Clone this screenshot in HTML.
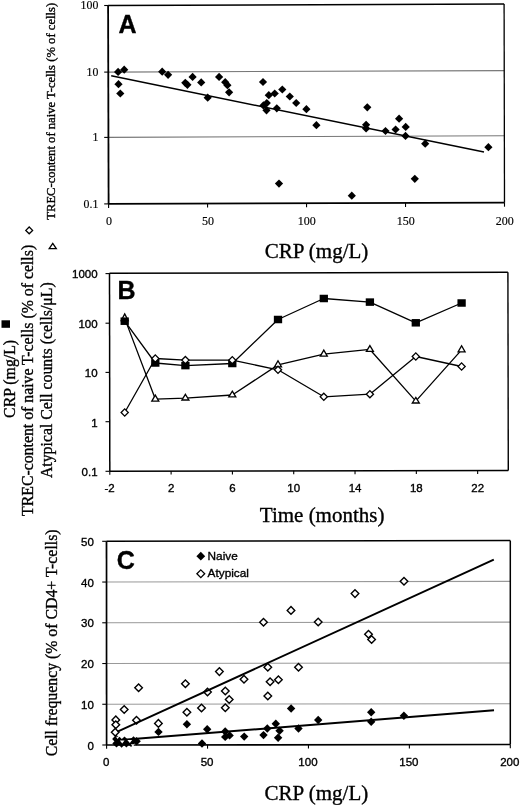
<!DOCTYPE html>
<html><head><meta charset="utf-8"><style>
html,body{margin:0;padding:0;background:#fff;}
body{width:520px;height:805px;overflow:hidden;}
svg{display:block;filter:grayscale(1);}
</style></head><body>
<svg width="520" height="805" viewBox="0 0 520 805">
<rect width="520" height="805" fill="#fff"/>
<line x1="108.30" y1="72.10" x2="504.30" y2="70.60" stroke="#777" stroke-width="1.1" stroke-linecap="butt"/>
<line x1="108.30" y1="137.40" x2="504.30" y2="135.80" stroke="#777" stroke-width="1.1" stroke-linecap="butt"/>
<line x1="108.10" y1="5.50" x2="504.10" y2="4.00" stroke="#000" stroke-width="1.4" stroke-linecap="butt"/>
<line x1="504.10" y1="4.00" x2="504.50" y2="202.70" stroke="#000" stroke-width="1.3" stroke-linecap="butt"/>
<line x1="108.60" y1="203.90" x2="504.50" y2="202.70" stroke="#000" stroke-width="1.8" stroke-linecap="butt"/>
<line x1="108.10" y1="5.50" x2="108.60" y2="203.90" stroke="#000" stroke-width="1.8" stroke-linecap="butt"/>
<line x1="104.20" y1="5.50" x2="108.50" y2="5.50" stroke="#000" stroke-width="1.1" stroke-linecap="butt"/>
<line x1="104.20" y1="72.10" x2="108.50" y2="72.10" stroke="#000" stroke-width="1.1" stroke-linecap="butt"/>
<line x1="104.20" y1="137.40" x2="108.50" y2="137.40" stroke="#000" stroke-width="1.1" stroke-linecap="butt"/>
<line x1="104.20" y1="203.90" x2="108.50" y2="203.90" stroke="#000" stroke-width="1.1" stroke-linecap="butt"/>
<line x1="108.60" y1="203.90" x2="108.60" y2="207.90" stroke="#000" stroke-width="1.1" stroke-linecap="butt"/>
<line x1="207.57" y1="203.60" x2="207.57" y2="207.60" stroke="#000" stroke-width="1.1" stroke-linecap="butt"/>
<line x1="306.55" y1="203.30" x2="306.55" y2="207.30" stroke="#000" stroke-width="1.1" stroke-linecap="butt"/>
<line x1="405.52" y1="203.00" x2="405.52" y2="207.00" stroke="#000" stroke-width="1.1" stroke-linecap="butt"/>
<line x1="504.50" y1="202.70" x2="504.50" y2="206.70" stroke="#000" stroke-width="1.1" stroke-linecap="butt"/>
<text x="98.30" y="9.10" font-family='"Liberation Serif", serif' font-size="11.8" font-weight="normal" text-anchor="end" stroke="#000" stroke-width="0.15" >100</text>
<text x="98.30" y="76.20" font-family='"Liberation Serif", serif' font-size="11.8" font-weight="normal" text-anchor="end" stroke="#000" stroke-width="0.15" >10</text>
<text x="98.30" y="141.40" font-family='"Liberation Serif", serif' font-size="11.8" font-weight="normal" text-anchor="end" stroke="#000" stroke-width="0.15" >1</text>
<text x="98.30" y="208.00" font-family='"Liberation Serif", serif' font-size="11.8" font-weight="normal" text-anchor="end" stroke="#000" stroke-width="0.15" >0.1</text>
<text x="108.90" y="224.90" font-family='"Liberation Serif", serif' font-size="12" font-weight="normal" text-anchor="middle" stroke="#000" stroke-width="0.15" >0</text>
<text x="207.88" y="224.90" font-family='"Liberation Serif", serif' font-size="12" font-weight="normal" text-anchor="middle" stroke="#000" stroke-width="0.15" >50</text>
<text x="306.85" y="224.90" font-family='"Liberation Serif", serif' font-size="12" font-weight="normal" text-anchor="middle" stroke="#000" stroke-width="0.15" >100</text>
<text x="405.82" y="224.90" font-family='"Liberation Serif", serif' font-size="12" font-weight="normal" text-anchor="middle" stroke="#000" stroke-width="0.15" >150</text>
<text x="504.80" y="224.90" font-family='"Liberation Serif", serif' font-size="12" font-weight="normal" text-anchor="middle" stroke="#000" stroke-width="0.15" >200</text>
<text x="118.50" y="32.90" font-family='"Liberation Sans", sans-serif' font-size="25" font-weight="bold" text-anchor="start" stroke="#000" stroke-width="0.35" >A</text>
<text transform="translate(54.50,111.30) rotate(-90)" font-family='"Liberation Serif", serif' font-size="12.65" text-anchor="middle" stroke="#000" stroke-width="0.35">TREC-content of naive T-cells (% of cells)</text>
<text x="264.70" y="257.80" font-family='"Liberation Serif", serif' font-size="21" font-weight="normal" text-anchor="start" stroke="#000" stroke-width="0.35" >CRP (mg/L)</text>
<line x1="111.20" y1="75.80" x2="484.00" y2="152.00" stroke="#000" stroke-width="1.5" stroke-linecap="butt"/>
<path d="M118.10 67.80L122.20 71.90L118.10 76.00L114.00 71.90Z" fill="#000"/>
<path d="M124.20 65.60L128.30 69.70L124.20 73.80L120.10 69.70Z" fill="#000"/>
<path d="M118.50 80.10L122.60 84.20L118.50 88.30L114.40 84.20Z" fill="#000"/>
<path d="M120.30 89.40L124.40 93.50L120.30 97.60L116.20 93.50Z" fill="#000"/>
<path d="M162.20 67.60L166.30 71.70L162.20 75.80L158.10 71.70Z" fill="#000"/>
<path d="M168.10 70.70L172.20 74.80L168.10 78.90L164.00 74.80Z" fill="#000"/>
<path d="M185.30 78.70L189.40 82.80L185.30 86.90L181.20 82.80Z" fill="#000"/>
<path d="M187.40 80.70L191.50 84.80L187.40 88.90L183.30 84.80Z" fill="#000"/>
<path d="M192.60 72.80L196.70 76.90L192.60 81.00L188.50 76.90Z" fill="#000"/>
<path d="M201.20 78.30L205.30 82.40L201.20 86.50L197.10 82.40Z" fill="#000"/>
<path d="M207.70 93.60L211.80 97.70L207.70 101.80L203.60 97.70Z" fill="#000"/>
<path d="M219.10 72.80L223.20 76.90L219.10 81.00L215.00 76.90Z" fill="#000"/>
<path d="M225.20 78.10L229.30 82.20L225.20 86.30L221.10 82.20Z" fill="#000"/>
<path d="M227.40 81.10L231.50 85.20L227.40 89.30L223.30 85.20Z" fill="#000"/>
<path d="M229.10 88.20L233.20 92.30L229.10 96.40L225.00 92.30Z" fill="#000"/>
<path d="M263.00 77.90L267.10 82.00L263.00 86.10L258.90 82.00Z" fill="#000"/>
<path d="M268.80 91.10L272.90 95.20L268.80 99.30L264.70 95.20Z" fill="#000"/>
<path d="M274.70 89.40L278.80 93.50L274.70 97.60L270.60 93.50Z" fill="#000"/>
<path d="M282.30 85.40L286.40 89.50L282.30 93.60L278.20 89.50Z" fill="#000"/>
<path d="M289.80 92.40L293.90 96.50L289.80 100.60L285.70 96.50Z" fill="#000"/>
<path d="M296.20 98.90L300.30 103.00L296.20 107.10L292.10 103.00Z" fill="#000"/>
<path d="M263.40 101.30L267.50 105.40L263.40 109.50L259.30 105.40Z" fill="#000"/>
<path d="M266.80 99.00L270.90 103.10L266.80 107.20L262.70 103.10Z" fill="#000"/>
<path d="M266.50 106.20L270.60 110.30L266.50 114.40L262.40 110.30Z" fill="#000"/>
<path d="M276.80 104.20L280.90 108.30L276.80 112.40L272.70 108.30Z" fill="#000"/>
<path d="M306.40 105.10L310.50 109.20L306.40 113.30L302.30 109.20Z" fill="#000"/>
<path d="M316.40 121.10L320.50 125.20L316.40 129.30L312.30 125.20Z" fill="#000"/>
<path d="M367.30 103.20L371.40 107.30L367.30 111.40L363.20 107.30Z" fill="#000"/>
<path d="M366.10 120.70L370.20 124.80L366.10 128.90L362.00 124.80Z" fill="#000"/>
<path d="M366.10 124.40L370.20 128.50L366.10 132.60L362.00 128.50Z" fill="#000"/>
<path d="M385.50 126.90L389.60 131.00L385.50 135.10L381.40 131.00Z" fill="#000"/>
<path d="M395.60 125.40L399.70 129.50L395.60 133.60L391.50 129.50Z" fill="#000"/>
<path d="M399.10 114.60L403.20 118.70L399.10 122.80L395.00 118.70Z" fill="#000"/>
<path d="M405.70 122.80L409.80 126.90L405.70 131.00L401.60 126.90Z" fill="#000"/>
<path d="M405.50 131.80L409.60 135.90L405.50 140.00L401.40 135.90Z" fill="#000"/>
<path d="M425.20 139.60L429.30 143.70L425.20 147.80L421.10 143.70Z" fill="#000"/>
<path d="M488.40 143.10L492.50 147.20L488.40 151.30L484.30 147.20Z" fill="#000"/>
<path d="M414.80 174.70L418.90 178.80L414.80 182.90L410.70 178.80Z" fill="#000"/>
<path d="M279.00 179.50L283.10 183.60L279.00 187.70L274.90 183.60Z" fill="#000"/>
<path d="M351.80 191.60L355.90 195.70L351.80 199.80L347.70 195.70Z" fill="#000"/>
<line x1="109.50" y1="273.30" x2="507.90" y2="272.30" stroke="#000" stroke-width="1.4" stroke-linecap="butt"/>
<line x1="507.90" y1="272.30" x2="508.30" y2="470.40" stroke="#000" stroke-width="1.4" stroke-linecap="butt"/>
<line x1="109.80" y1="471.20" x2="508.30" y2="470.40" stroke="#000" stroke-width="1.5" stroke-linecap="butt"/>
<line x1="109.50" y1="273.30" x2="109.80" y2="471.20" stroke="#000" stroke-width="1.5" stroke-linecap="butt"/>
<line x1="105.50" y1="273.60" x2="109.80" y2="273.60" stroke="#000" stroke-width="1.1" stroke-linecap="butt"/>
<line x1="105.50" y1="323.20" x2="109.80" y2="323.20" stroke="#000" stroke-width="1.1" stroke-linecap="butt"/>
<line x1="105.50" y1="372.40" x2="109.80" y2="372.40" stroke="#000" stroke-width="1.1" stroke-linecap="butt"/>
<line x1="105.50" y1="421.70" x2="109.80" y2="421.70" stroke="#000" stroke-width="1.1" stroke-linecap="butt"/>
<line x1="105.50" y1="471.30" x2="109.80" y2="471.30" stroke="#000" stroke-width="1.1" stroke-linecap="butt"/>
<line x1="109.80" y1="471.20" x2="109.80" y2="474.70" stroke="#000" stroke-width="1.1" stroke-linecap="butt"/>
<line x1="171.11" y1="471.08" x2="171.11" y2="474.58" stroke="#000" stroke-width="1.1" stroke-linecap="butt"/>
<line x1="232.42" y1="470.95" x2="232.42" y2="474.45" stroke="#000" stroke-width="1.1" stroke-linecap="butt"/>
<line x1="293.72" y1="470.83" x2="293.72" y2="474.33" stroke="#000" stroke-width="1.1" stroke-linecap="butt"/>
<line x1="355.03" y1="470.71" x2="355.03" y2="474.21" stroke="#000" stroke-width="1.1" stroke-linecap="butt"/>
<line x1="416.34" y1="470.58" x2="416.34" y2="474.08" stroke="#000" stroke-width="1.1" stroke-linecap="butt"/>
<line x1="477.65" y1="470.46" x2="477.65" y2="473.96" stroke="#000" stroke-width="1.1" stroke-linecap="butt"/>
<text x="97.60" y="278.30" font-family='"Liberation Sans", sans-serif' font-size="11.5" font-weight="normal" text-anchor="end" stroke="#000" stroke-width="0.35" >1000</text>
<text x="97.60" y="327.50" font-family='"Liberation Sans", sans-serif' font-size="11.5" font-weight="normal" text-anchor="end" stroke="#000" stroke-width="0.35" >100</text>
<text x="97.60" y="376.90" font-family='"Liberation Sans", sans-serif' font-size="11.5" font-weight="normal" text-anchor="end" stroke="#000" stroke-width="0.35" >10</text>
<text x="97.60" y="426.50" font-family='"Liberation Sans", sans-serif' font-size="11.5" font-weight="normal" text-anchor="end" stroke="#000" stroke-width="0.35" >1</text>
<text x="97.60" y="475.90" font-family='"Liberation Sans", sans-serif' font-size="11.5" font-weight="normal" text-anchor="end" stroke="#000" stroke-width="0.35" >0.1</text>
<text x="109.50" y="492.00" font-family='"Liberation Sans", sans-serif' font-size="11.5" font-weight="normal" text-anchor="middle" stroke="#000" stroke-width="0.35" >-2</text>
<text x="171.11" y="492.00" font-family='"Liberation Sans", sans-serif' font-size="11.5" font-weight="normal" text-anchor="middle" stroke="#000" stroke-width="0.35" >2</text>
<text x="232.42" y="492.00" font-family='"Liberation Sans", sans-serif' font-size="11.5" font-weight="normal" text-anchor="middle" stroke="#000" stroke-width="0.35" >6</text>
<text x="293.72" y="492.00" font-family='"Liberation Sans", sans-serif' font-size="11.5" font-weight="normal" text-anchor="middle" stroke="#000" stroke-width="0.35" >10</text>
<text x="355.03" y="492.00" font-family='"Liberation Sans", sans-serif' font-size="11.5" font-weight="normal" text-anchor="middle" stroke="#000" stroke-width="0.35" >14</text>
<text x="416.34" y="492.00" font-family='"Liberation Sans", sans-serif' font-size="11.5" font-weight="normal" text-anchor="middle" stroke="#000" stroke-width="0.35" >18</text>
<text x="477.65" y="492.00" font-family='"Liberation Sans", sans-serif' font-size="11.5" font-weight="normal" text-anchor="middle" stroke="#000" stroke-width="0.35" >22</text>
<text x="117.40" y="299.00" font-family='"Liberation Sans", sans-serif' font-size="25" font-weight="bold" text-anchor="start" stroke="#000" stroke-width="0.35" >B</text>
<text x="259.80" y="521.90" font-family='"Liberation Serif", serif' font-size="21" font-weight="normal" text-anchor="start" stroke="#000" stroke-width="0.35" >Time (months)</text>
<text transform="translate(14.80,378.90) rotate(-90)" font-family='"Liberation Serif", serif' font-size="15.8" text-anchor="middle" stroke="#000" stroke-width="0.35">CRP (mg/L)</text>
<text transform="translate(33.00,380.40) rotate(-90)" font-family='"Liberation Serif", serif' font-size="15.8" text-anchor="middle" stroke="#000" stroke-width="0.35">TREC-content of naive T-cells (% of cells)</text>
<text transform="translate(52.20,380.20) rotate(-90)" font-family='"Liberation Serif", serif' font-size="15.8" text-anchor="middle" stroke="#000" stroke-width="0.35">Atypical Cell counts (cells/μL)</text>
<rect x="1.5" y="320.3" width="8.5" height="7.5" fill="#000"/>
<path d="M29.20 227.00L32.60 230.40L29.20 233.80L25.80 230.40Z" fill="#fff" stroke="#000" stroke-width="1.3" stroke-linejoin="miter"/>
<path d="M52.75 243.3L56.3 248.6L49.2 248.6Z" fill="#fff" stroke="#000" stroke-width="1.3"/>
<polyline points="124.70,321.20 155.30,363.00 185.40,365.60 232.30,363.50 278.00,319.50 323.80,298.50 369.90,302.10 415.80,322.80 461.60,303.00" fill="none" stroke="#000" stroke-width="1.3" stroke-linejoin="round"/>
<polyline points="124.70,412.50 155.30,358.50 185.40,360.10 232.30,360.20 278.00,369.80 323.80,396.80 369.90,394.20 415.80,356.50 461.60,366.50" fill="none" stroke="#000" stroke-width="1.3" stroke-linejoin="round"/>
<polyline points="124.70,318.37 155.30,399.10 185.40,398.10 232.30,395.00 278.00,364.87 323.80,354.10 369.90,349.47 415.80,401.13 461.60,349.83" fill="none" stroke="#000" stroke-width="1.3" stroke-linejoin="round"/>
<path d="M124.70 313.90L128.20 320.60L121.20 320.60Z" fill="#fff" stroke="#000" stroke-width="1.3" stroke-linejoin="miter"/>
<path d="M155.30 395.10L158.80 401.10L151.80 401.10Z" fill="#fff" stroke="#000" stroke-width="1.3" stroke-linejoin="miter"/>
<path d="M185.40 394.30L188.90 400.00L181.90 400.00Z" fill="#fff" stroke="#000" stroke-width="1.3" stroke-linejoin="miter"/>
<path d="M232.30 391.20L235.80 396.90L228.80 396.90Z" fill="#fff" stroke="#000" stroke-width="1.3" stroke-linejoin="miter"/>
<path d="M278.00 360.80L281.50 366.90L274.50 366.90Z" fill="#fff" stroke="#000" stroke-width="1.3" stroke-linejoin="miter"/>
<path d="M323.80 350.10L327.30 356.10L320.30 356.10Z" fill="#fff" stroke="#000" stroke-width="1.3" stroke-linejoin="miter"/>
<path d="M369.90 345.60L373.40 351.40L366.40 351.40Z" fill="#fff" stroke="#000" stroke-width="1.3" stroke-linejoin="miter"/>
<path d="M415.80 397.40L419.30 403.00L412.30 403.00Z" fill="#fff" stroke="#000" stroke-width="1.3" stroke-linejoin="miter"/>
<path d="M461.60 345.70L465.10 351.90L458.10 351.90Z" fill="#fff" stroke="#000" stroke-width="1.3" stroke-linejoin="miter"/>
<rect x="120.55" y="317.45" width="8.3" height="7.5" fill="#000"/>
<rect x="151.15" y="359.25" width="8.3" height="7.5" fill="#000"/>
<rect x="181.25" y="361.85" width="8.3" height="7.5" fill="#000"/>
<rect x="228.15" y="359.75" width="8.3" height="7.5" fill="#000"/>
<rect x="273.85" y="315.75" width="8.3" height="7.5" fill="#000"/>
<rect x="319.65" y="294.75" width="8.3" height="7.5" fill="#000"/>
<rect x="365.75" y="298.35" width="8.3" height="7.5" fill="#000"/>
<rect x="411.65" y="319.05" width="8.3" height="7.5" fill="#000"/>
<rect x="457.45" y="299.25" width="8.3" height="7.5" fill="#000"/>
<path d="M124.70 408.90L128.30 412.50L124.70 416.10L121.10 412.50Z" fill="#fff" stroke="#000" stroke-width="1.3" stroke-linejoin="miter"/>
<path d="M155.30 354.90L158.90 358.50L155.30 362.10L151.70 358.50Z" fill="#fff" stroke="#000" stroke-width="1.3" stroke-linejoin="miter"/>
<path d="M185.40 356.50L189.00 360.10L185.40 363.70L181.80 360.10Z" fill="#fff" stroke="#000" stroke-width="1.3" stroke-linejoin="miter"/>
<path d="M232.30 356.60L235.90 360.20L232.30 363.80L228.70 360.20Z" fill="#fff" stroke="#000" stroke-width="1.3" stroke-linejoin="miter"/>
<path d="M278.00 366.20L281.60 369.80L278.00 373.40L274.40 369.80Z" fill="#fff" stroke="#000" stroke-width="1.3" stroke-linejoin="miter"/>
<path d="M323.80 393.20L327.40 396.80L323.80 400.40L320.20 396.80Z" fill="#fff" stroke="#000" stroke-width="1.3" stroke-linejoin="miter"/>
<path d="M369.90 390.60L373.50 394.20L369.90 397.80L366.30 394.20Z" fill="#fff" stroke="#000" stroke-width="1.3" stroke-linejoin="miter"/>
<path d="M415.80 352.90L419.40 356.50L415.80 360.10L412.20 356.50Z" fill="#fff" stroke="#000" stroke-width="1.3" stroke-linejoin="miter"/>
<path d="M461.60 362.90L465.20 366.50L461.60 370.10L458.00 366.50Z" fill="#fff" stroke="#000" stroke-width="1.3" stroke-linejoin="miter"/>
<line x1="106.52" y1="582.04" x2="510.30" y2="581.38" stroke="#999" stroke-width="1.1" stroke-linecap="butt"/>
<line x1="106.54" y1="622.78" x2="510.30" y2="622.16" stroke="#999" stroke-width="1.1" stroke-linecap="butt"/>
<line x1="106.56" y1="663.52" x2="510.30" y2="662.94" stroke="#999" stroke-width="1.1" stroke-linecap="butt"/>
<line x1="106.58" y1="704.26" x2="510.30" y2="703.72" stroke="#999" stroke-width="1.1" stroke-linecap="butt"/>
<line x1="106.50" y1="541.30" x2="510.30" y2="540.60" stroke="#000" stroke-width="1.5" stroke-linecap="butt"/>
<line x1="510.30" y1="540.60" x2="510.30" y2="744.50" stroke="#000" stroke-width="1.5" stroke-linecap="butt"/>
<line x1="106.60" y1="745.00" x2="510.30" y2="744.50" stroke="#000" stroke-width="1.7" stroke-linecap="butt"/>
<line x1="106.50" y1="541.30" x2="106.60" y2="745.00" stroke="#000" stroke-width="1.7" stroke-linecap="butt"/>
<line x1="102.20" y1="541.30" x2="106.50" y2="541.30" stroke="#000" stroke-width="1.1" stroke-linecap="butt"/>
<line x1="102.22" y1="582.04" x2="106.52" y2="582.04" stroke="#000" stroke-width="1.1" stroke-linecap="butt"/>
<line x1="102.24" y1="622.78" x2="106.54" y2="622.78" stroke="#000" stroke-width="1.1" stroke-linecap="butt"/>
<line x1="102.26" y1="663.52" x2="106.56" y2="663.52" stroke="#000" stroke-width="1.1" stroke-linecap="butt"/>
<line x1="102.28" y1="704.26" x2="106.58" y2="704.26" stroke="#000" stroke-width="1.1" stroke-linecap="butt"/>
<line x1="102.30" y1="745.00" x2="106.60" y2="745.00" stroke="#000" stroke-width="1.1" stroke-linecap="butt"/>
<line x1="106.60" y1="745.00" x2="106.60" y2="748.80" stroke="#000" stroke-width="1.1" stroke-linecap="butt"/>
<line x1="207.53" y1="744.88" x2="207.53" y2="748.67" stroke="#000" stroke-width="1.1" stroke-linecap="butt"/>
<line x1="308.45" y1="744.75" x2="308.45" y2="748.55" stroke="#000" stroke-width="1.1" stroke-linecap="butt"/>
<line x1="409.38" y1="744.62" x2="409.38" y2="748.42" stroke="#000" stroke-width="1.1" stroke-linecap="butt"/>
<line x1="510.30" y1="744.50" x2="510.30" y2="748.30" stroke="#000" stroke-width="1.1" stroke-linecap="butt"/>
<text x="93.80" y="749.60" font-family='"Liberation Sans", sans-serif' font-size="11.5" font-weight="normal" text-anchor="end" stroke="#000" stroke-width="0.35" >0</text>
<text x="93.80" y="708.86" font-family='"Liberation Sans", sans-serif' font-size="11.5" font-weight="normal" text-anchor="end" stroke="#000" stroke-width="0.35" >10</text>
<text x="93.80" y="668.12" font-family='"Liberation Sans", sans-serif' font-size="11.5" font-weight="normal" text-anchor="end" stroke="#000" stroke-width="0.35" >20</text>
<text x="93.80" y="627.38" font-family='"Liberation Sans", sans-serif' font-size="11.5" font-weight="normal" text-anchor="end" stroke="#000" stroke-width="0.35" >30</text>
<text x="93.80" y="586.64" font-family='"Liberation Sans", sans-serif' font-size="11.5" font-weight="normal" text-anchor="end" stroke="#000" stroke-width="0.35" >40</text>
<text x="93.80" y="545.90" font-family='"Liberation Sans", sans-serif' font-size="11.5" font-weight="normal" text-anchor="end" stroke="#000" stroke-width="0.35" >50</text>
<text x="106.10" y="765.80" font-family='"Liberation Sans", sans-serif' font-size="11.5" font-weight="normal" text-anchor="middle" stroke="#000" stroke-width="0.35" >0</text>
<text x="207.03" y="765.80" font-family='"Liberation Sans", sans-serif' font-size="11.5" font-weight="normal" text-anchor="middle" stroke="#000" stroke-width="0.35" >50</text>
<text x="307.95" y="765.80" font-family='"Liberation Sans", sans-serif' font-size="11.5" font-weight="normal" text-anchor="middle" stroke="#000" stroke-width="0.35" >100</text>
<text x="408.88" y="765.80" font-family='"Liberation Sans", sans-serif' font-size="11.5" font-weight="normal" text-anchor="middle" stroke="#000" stroke-width="0.35" >150</text>
<text x="509.80" y="765.80" font-family='"Liberation Sans", sans-serif' font-size="11.5" font-weight="normal" text-anchor="middle" stroke="#000" stroke-width="0.35" >200</text>
<text x="116.70" y="569.10" font-family='"Liberation Sans", sans-serif' font-size="25" font-weight="bold" text-anchor="start" stroke="#000" stroke-width="0.35" >C</text>
<text x="264.60" y="799.60" font-family='"Liberation Serif", serif' font-size="21" font-weight="normal" text-anchor="start" stroke="#000" stroke-width="0.35" >CRP (mg/L)</text>
<text transform="translate(56.50,642.90) rotate(-90)" font-family='"Liberation Serif", serif' font-size="15.8" text-anchor="middle" stroke="#000" stroke-width="0.35">Cell frequency (% of CD4+ T-cells)</text>
<path d="M200.80 551.80L205.20 556.20L200.80 560.60L196.40 556.20Z" fill="#000"/>
<text x="207.60" y="559.80" font-family='"Liberation Sans", sans-serif' font-size="11.8" font-weight="normal" text-anchor="start" stroke="#000" stroke-width="0.35" >Naive</text>
<path d="M200.80 569.90L204.70 573.80L200.80 577.70L196.90 573.80Z" fill="#fff" stroke="#000" stroke-width="1.3" stroke-linejoin="miter"/>
<text x="207.60" y="577.40" font-family='"Liberation Sans", sans-serif' font-size="11.8" font-weight="normal" text-anchor="start" stroke="#000" stroke-width="0.35" >Atypical</text>
<path d="M158.50 727.70L162.70 731.90L158.50 736.10L154.30 731.90Z" fill="#000"/>
<path d="M186.90 720.10L191.10 724.30L186.90 728.50L182.70 724.30Z" fill="#000"/>
<path d="M207.20 725.00L211.40 729.20L207.20 733.40L203.00 729.20Z" fill="#000"/>
<path d="M202.00 739.30L206.20 743.50L202.00 747.70L197.80 743.50Z" fill="#000"/>
<path d="M225.20 727.30L229.40 731.50L225.20 735.70L221.00 731.50Z" fill="#000"/>
<path d="M225.20 732.70L229.40 736.90L225.20 741.10L221.00 736.90Z" fill="#000"/>
<path d="M229.60 731.20L233.80 735.40L229.60 739.60L225.40 735.40Z" fill="#000"/>
<path d="M244.20 732.40L248.40 736.60L244.20 740.80L240.00 736.60Z" fill="#000"/>
<path d="M263.50 730.90L267.70 735.10L263.50 739.30L259.30 735.10Z" fill="#000"/>
<path d="M267.30 724.30L271.50 728.50L267.30 732.70L263.10 728.50Z" fill="#000"/>
<path d="M275.80 719.60L280.00 723.80L275.80 728.00L271.60 723.80Z" fill="#000"/>
<path d="M279.60 726.60L283.80 730.80L279.60 735.00L275.40 730.80Z" fill="#000"/>
<path d="M278.10 733.50L282.30 737.70L278.10 741.90L273.90 737.70Z" fill="#000"/>
<path d="M291.10 704.30L295.30 708.50L291.10 712.70L286.90 708.50Z" fill="#000"/>
<path d="M298.50 724.30L302.70 728.50L298.50 732.70L294.30 728.50Z" fill="#000"/>
<path d="M318.20 715.80L322.40 720.00L318.20 724.20L314.00 720.00Z" fill="#000"/>
<path d="M371.20 708.10L375.40 712.30L371.20 716.50L367.00 712.30Z" fill="#000"/>
<path d="M371.20 717.60L375.40 721.80L371.20 726.00L367.00 721.80Z" fill="#000"/>
<path d="M403.90 711.50L408.10 715.70L403.90 719.90L399.70 715.70Z" fill="#000"/>
<path d="M116.30 734.80L120.50 739.00L116.30 743.20L112.10 739.00Z" fill="#000"/>
<path d="M116.50 739.20L120.70 743.40L116.50 747.60L112.30 743.40Z" fill="#000"/>
<path d="M121.60 739.40L125.80 743.60L121.60 747.80L117.40 743.60Z" fill="#000"/>
<path d="M126.40 739.10L130.60 743.30L126.40 747.50L122.20 743.30Z" fill="#000"/>
<path d="M131.00 738.60L135.20 742.80L131.00 747.00L126.80 742.80Z" fill="#000"/>
<path d="M136.60 737.00L140.80 741.20L136.60 745.40L132.40 741.20Z" fill="#000"/>
<path d="M124.50 736.40L128.70 740.60L124.50 744.80L120.30 740.60Z" fill="#000"/>
<path d="M133.50 736.20L137.70 740.40L133.50 744.60L129.30 740.40Z" fill="#000"/>
<path d="M119.50 736.80L123.70 741.00L119.50 745.20L115.30 741.00Z" fill="#000"/>
<path d="M115.80 716.10L119.60 719.90L115.80 723.70L112.00 719.90Z" fill="#fff" stroke="#000" stroke-width="1.4" stroke-linejoin="miter"/>
<path d="M115.80 721.00L119.60 724.80L115.80 728.60L112.00 724.80Z" fill="#fff" stroke="#000" stroke-width="1.4" stroke-linejoin="miter"/>
<path d="M115.20 728.50L119.00 732.30L115.20 736.10L111.40 732.30Z" fill="#fff" stroke="#000" stroke-width="1.4" stroke-linejoin="miter"/>
<path d="M124.20 705.70L128.00 709.50L124.20 713.30L120.40 709.50Z" fill="#fff" stroke="#000" stroke-width="1.4" stroke-linejoin="miter"/>
<path d="M136.50 716.40L140.30 720.20L136.50 724.00L132.70 720.20Z" fill="#fff" stroke="#000" stroke-width="1.4" stroke-linejoin="miter"/>
<path d="M138.60 683.90L142.40 687.70L138.60 691.50L134.80 687.70Z" fill="#fff" stroke="#000" stroke-width="1.4" stroke-linejoin="miter"/>
<path d="M158.40 719.60L162.20 723.40L158.40 727.20L154.60 723.40Z" fill="#fff" stroke="#000" stroke-width="1.4" stroke-linejoin="miter"/>
<path d="M185.40 680.00L189.20 683.80L185.40 687.60L181.60 683.80Z" fill="#fff" stroke="#000" stroke-width="1.4" stroke-linejoin="miter"/>
<path d="M186.90 708.50L190.70 712.30L186.90 716.10L183.10 712.30Z" fill="#fff" stroke="#000" stroke-width="1.4" stroke-linejoin="miter"/>
<path d="M201.50 704.20L205.30 708.00L201.50 711.80L197.70 708.00Z" fill="#fff" stroke="#000" stroke-width="1.4" stroke-linejoin="miter"/>
<path d="M207.50 688.20L211.30 692.00L207.50 695.80L203.70 692.00Z" fill="#fff" stroke="#000" stroke-width="1.4" stroke-linejoin="miter"/>
<path d="M219.40 667.80L223.20 671.60L219.40 675.40L215.60 671.60Z" fill="#fff" stroke="#000" stroke-width="1.4" stroke-linejoin="miter"/>
<path d="M225.30 687.20L229.10 691.00L225.30 694.80L221.50 691.00Z" fill="#fff" stroke="#000" stroke-width="1.4" stroke-linejoin="miter"/>
<path d="M229.20 695.70L233.00 699.50L229.20 703.30L225.40 699.50Z" fill="#fff" stroke="#000" stroke-width="1.4" stroke-linejoin="miter"/>
<path d="M225.30 704.00L229.10 707.80L225.30 711.60L221.50 707.80Z" fill="#fff" stroke="#000" stroke-width="1.4" stroke-linejoin="miter"/>
<path d="M244.00 675.50L247.80 679.30L244.00 683.10L240.20 679.30Z" fill="#fff" stroke="#000" stroke-width="1.4" stroke-linejoin="miter"/>
<path d="M263.50 618.50L267.30 622.30L263.50 626.10L259.70 622.30Z" fill="#fff" stroke="#000" stroke-width="1.4" stroke-linejoin="miter"/>
<path d="M267.80 663.40L271.60 667.20L267.80 671.00L264.00 667.20Z" fill="#fff" stroke="#000" stroke-width="1.4" stroke-linejoin="miter"/>
<path d="M270.10 677.90L273.90 681.70L270.10 685.50L266.30 681.70Z" fill="#fff" stroke="#000" stroke-width="1.4" stroke-linejoin="miter"/>
<path d="M278.40 676.00L282.20 679.80L278.40 683.60L274.60 679.80Z" fill="#fff" stroke="#000" stroke-width="1.4" stroke-linejoin="miter"/>
<path d="M267.80 692.20L271.60 696.00L267.80 699.80L264.00 696.00Z" fill="#fff" stroke="#000" stroke-width="1.4" stroke-linejoin="miter"/>
<path d="M291.00 606.60L294.80 610.40L291.00 614.20L287.20 610.40Z" fill="#fff" stroke="#000" stroke-width="1.4" stroke-linejoin="miter"/>
<path d="M298.50 663.40L302.30 667.20L298.50 671.00L294.70 667.20Z" fill="#fff" stroke="#000" stroke-width="1.4" stroke-linejoin="miter"/>
<path d="M318.20 618.20L322.00 622.00L318.20 625.80L314.40 622.00Z" fill="#fff" stroke="#000" stroke-width="1.4" stroke-linejoin="miter"/>
<path d="M355.00 589.80L358.80 593.60L355.00 597.40L351.20 593.60Z" fill="#fff" stroke="#000" stroke-width="1.4" stroke-linejoin="miter"/>
<path d="M404.00 577.40L407.80 581.20L404.00 585.00L400.20 581.20Z" fill="#fff" stroke="#000" stroke-width="1.4" stroke-linejoin="miter"/>
<path d="M368.50 630.50L372.30 634.30L368.50 638.10L364.70 634.30Z" fill="#fff" stroke="#000" stroke-width="1.4" stroke-linejoin="miter"/>
<path d="M371.60 635.70L375.40 639.50L371.60 643.30L367.80 639.50Z" fill="#fff" stroke="#000" stroke-width="1.4" stroke-linejoin="miter"/>
<line x1="117.50" y1="731.70" x2="493.80" y2="559.60" stroke="#000" stroke-width="2.0" stroke-linecap="butt"/>
<line x1="117.50" y1="740.30" x2="494.00" y2="710.20" stroke="#000" stroke-width="2.0" stroke-linecap="butt"/>
<path d="M116.00 736.80L119.20 736.80L117.60 739.00Z" fill="#fff"/>
<path d="M119.90 740.60L124.50 740.60L122.20 743.40Z" fill="#fff"/>
<path d="M127.40 740.10L132.20 740.10L129.80 743.10Z" fill="#fff"/>
<path d="M130.90 744.20L134.70 744.20L132.80 746.80Z" fill="#fff"/>
</svg>
</body></html>
